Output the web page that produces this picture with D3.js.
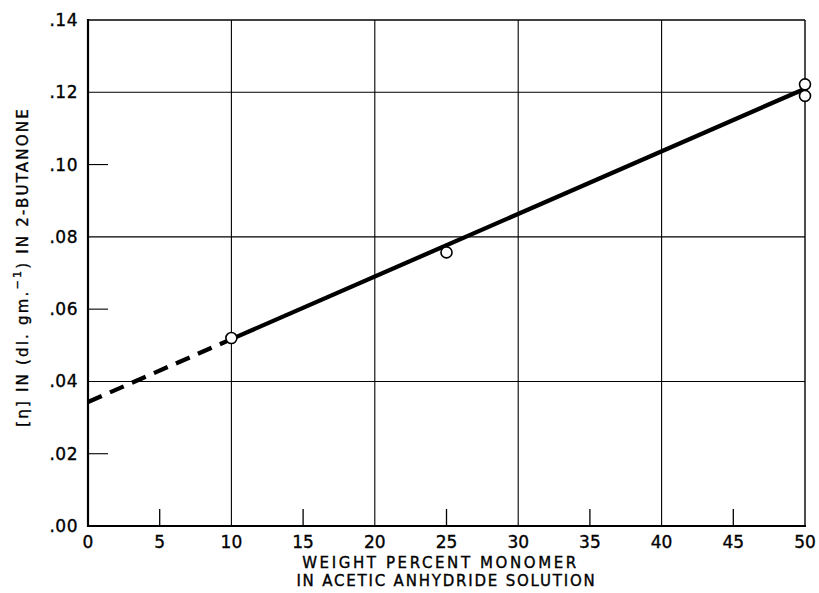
<!DOCTYPE html>
<html>
<head>
<meta charset="utf-8">
<script src="https://cdn.jsdelivr.net/npm/d3@7"></script>
<style>
  body { margin: 0; background: #fff; }
  text { font-family: "DejaVu Sans", sans-serif; fill: #000; stroke: #000; stroke-width: 0.35px; }
</style>
</head>
<body>
<div id="chart"></div>
<script>
// --- Daten ---
const xTicks = [0, 5, 10, 15, 20, 25, 30, 35, 40, 45, 50];
const yTicks = [0, 0.02, 0.04, 0.06, 0.08, 0.10, 0.12, 0.14];
const xGrid = [10, 20, 30, 40];
const yGrid = [0.04, 0.08, 0.12];
const xMinor = [5, 15, 25, 35, 45];
const yMinor = [0.02, 0.06, 0.10];

// Messpunkte
const ptX = [10, 25, 50, 50];
const ptY = [0.052, 0.0757, 0.1222, 0.119];

// Ausgleichsgerade: gestrichelt (Extrapolation) und durchgezogen
const dashX = [0, 10];
const dashY = [0.0343, 0.0517];
const solidX = [10, 50];
const solidY = [0.0517, 0.121];

const W = 819, H = 593;
const m = { top: 20, right: 14, bottom: 67, left: 88 };
const iw = W - m.left - m.right, ih = H - m.top - m.bottom;

const svg = d3.select("#chart").append("svg").attr("width", W).attr("height", H);
const g = svg.append("g").attr("transform", `translate(${m.left},${m.top})`);

const x = d3.scaleLinear().domain([0, 50]).range([0, iw]);
const y = d3.scaleLinear().domain([0, 0.14]).range([ih, 0]);

// Gitter
g.selectAll(".gx").data(xGrid).join("line")
  .attr("x1", d => x(d)).attr("x2", d => x(d)).attr("y1", 0).attr("y2", ih)
  .attr("stroke", "#000").attr("stroke-width", 1.1);
g.selectAll(".gy").data(yGrid).join("line")
  .attr("x1", 0).attr("x2", iw).attr("y1", d => y(d)).attr("y2", d => y(d))
  .attr("stroke", "#000").attr("stroke-width", 1.1);

// kurze Striche innen
g.selectAll(".mx").data(xMinor).join("line")
  .attr("x1", d => x(d)).attr("x2", d => x(d)).attr("y1", ih).attr("y2", ih - 17)
  .attr("stroke", "#000").attr("stroke-width", 1.3);
g.selectAll(".my").data(yMinor).join("line")
  .attr("x1", 0).attr("x2", 20).attr("y1", d => y(d)).attr("y2", d => y(d))
  .attr("stroke", "#000").attr("stroke-width", 1.1);

// Rahmen
g.append("line").attr("x1", 0).attr("x2", iw).attr("y1", 0).attr("y2", 0)
  .attr("stroke", "#000").attr("stroke-width", 1.6);
g.append("line").attr("x1", iw).attr("x2", iw).attr("y1", 0).attr("y2", ih)
  .attr("stroke", "#000").attr("stroke-width", 1.4);
g.append("line").attr("x1", 0).attr("x2", 0).attr("y1", -1).attr("y2", ih + 1)
  .attr("stroke", "#000").attr("stroke-width", 2.2);
g.append("line").attr("x1", -1).attr("x2", iw + 1).attr("y1", ih).attr("y2", ih)
  .attr("stroke", "#000").attr("stroke-width", 2.2);

// Achsenbeschriftung
g.selectAll(".tx").data(xTicks).join("text")
  .attr("x", d => x(d)).attr("y", ih + 22)
  .attr("text-anchor", "middle").style("font-size", "17px")
  .text(d => d);
g.selectAll(".ty").data(yTicks).join("text")
  .attr("x", -10).attr("y", d => y(d) + 6)
  .attr("text-anchor", "end").style("font-size", "17px").style("letter-spacing", "0.5px")
  .text(d => d3.format(".2f")(d).replace(/^0/, ""));

// Linien
const line = d3.line().x(d => x(d[0])).y(d => y(d[1]));
g.append("path").datum(d3.zip(dashX, dashY)).attr("d", line)
  .attr("fill", "none").attr("stroke", "#000").attr("stroke-width", 4.3)
  .attr("stroke-dasharray", "15,9");
g.append("path").datum(d3.zip(solidX, solidY)).attr("d", line)
  .attr("fill", "none").attr("stroke", "#000").attr("stroke-width", 4.3);

// Punkte
g.selectAll(".pt").data(d3.zip(ptX, ptY)).join("circle")
  .attr("cx", d => x(d[0])).attr("cy", d => y(d[1])).attr("r", 5.5)
  .attr("fill", "#fff").attr("stroke", "#000").attr("stroke-width", 1.6);

// Achsentitel
const cx = m.left + iw / 2;
svg.append("text").attr("x", cx - 6).attr("y", 568).attr("text-anchor", "middle")
  .style("font-size", "15px").style("letter-spacing", "2.6px")
  .text("WEIGHT PERCENT MONOMER");
svg.append("text").attr("x", cx).attr("y", 586).attr("text-anchor", "middle")
  .style("font-size", "15px").style("letter-spacing", "1.8px")
  .text("IN ACETIC ANHYDRIDE SOLUTION");

const yl = svg.append("text")
  .attr("transform", `translate(28,${m.top + ih / 2 - 6}) rotate(-90)`)
  .attr("text-anchor", "middle")
  .style("font-size", "15px").style("letter-spacing", "2.2px");
yl.append("tspan").text("[η] IN (dl. gm.");
yl.append("tspan").attr("dy", -7).style("font-size", "11px").text("−1");
yl.append("tspan").attr("dy", 7).text(") IN 2-BUTANONE");
</script>
</body>
</html>
